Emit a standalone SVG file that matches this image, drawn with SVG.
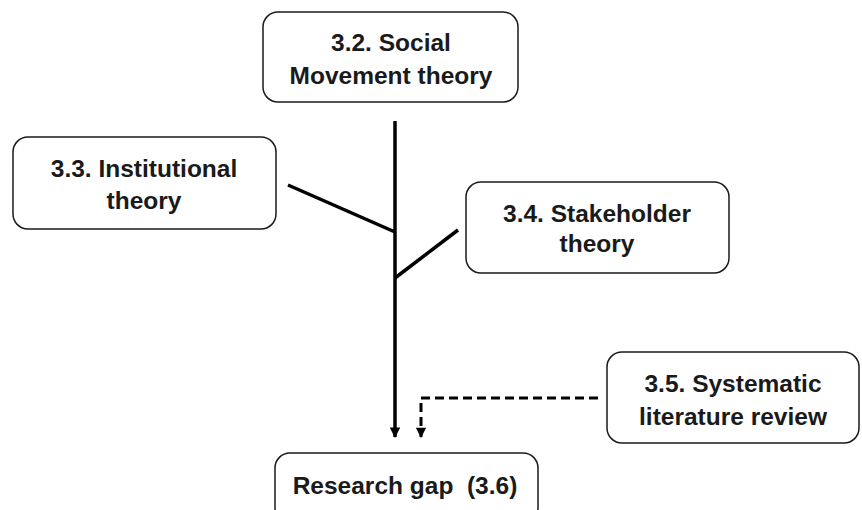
<svg xmlns="http://www.w3.org/2000/svg" width="862" height="510" viewBox="0 0 862 510">
  <style>
    .box { fill: #ffffff; stroke: #1a1a1a; stroke-width: 1.5; }
    .label { font-family: "Liberation Sans", Arial, sans-serif; font-weight: bold; font-size: 24.5px; fill: #1a1a1a; text-anchor: middle; }
    .link { fill: none; stroke: #000000; stroke-width: 3.5; }
    .dash { fill: none; stroke: #000000; stroke-width: 3; stroke-dasharray: 9 5; }
  </style>
  <defs>
    <marker id="head" viewBox="0 0 10 10" refX="9" refY="5" markerWidth="3.4" markerHeight="3" orient="auto" markerUnits="strokeWidth">
      <path d="M0,0 L10,5 L0,10 Z" fill="#000000"/>
    </marker>
    <marker id="headDash" viewBox="0 0 10 10" refX="9" refY="5" markerWidth="3.8" markerHeight="3.4" orient="auto" markerUnits="strokeWidth">
      <path d="M0,0 L10,5 L0,10 Z" fill="#000000"/>
    </marker>
  </defs>
  <rect width="862" height="510" fill="#ffffff"/>

  <g id="connectors">
    <path class="link" d="M395,121 L395,437" marker-end="url(#head)"/>
    <path class="link" d="M288,185 L395,232"/>
    <path class="link" d="M395,278 L458,230"/>
    <path class="dash" d="M598,398 L421,398 L421,437" marker-end="url(#headDash)"/>
  </g>

  <g id="social-movement">
    <rect class="box" x="263" y="12" width="255" height="90" rx="15"/>
    <text class="label" x="391" y="51">3.2. Social</text>
    <text class="label" x="391" y="84">Movement theory</text>
  </g>

  <g id="institutional">
    <rect class="box" x="13" y="137" width="263" height="92" rx="15"/>
    <text class="label" x="144" y="177">3.3. Institutional</text>
    <text class="label" x="144" y="209">theory</text>
  </g>

  <g id="stakeholder">
    <rect class="box" x="466" y="182" width="263" height="91" rx="15"/>
    <text class="label" x="597" y="222">3.4. Stakeholder</text>
    <text class="label" x="597" y="252">theory</text>
  </g>

  <g id="systematic-review">
    <rect class="box" x="607" y="352" width="252" height="91" rx="15"/>
    <text class="label" x="733" y="392">3.5. Systematic</text>
    <text class="label" x="733" y="425">literature review</text>
  </g>

  <g id="research-gap">
    <rect class="box" x="275" y="453" width="263" height="70" rx="15"/>
    <text class="label" x="405" y="494">Research gap&#160; (3.6)</text>
  </g>
</svg>
